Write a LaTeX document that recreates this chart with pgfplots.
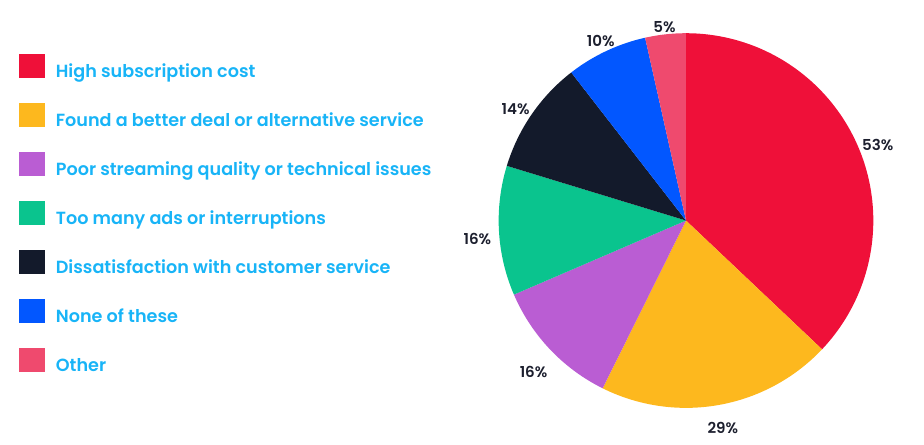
\documentclass[border=0pt]{standalone}
\usepackage{pgfplots}
\pgfplotsset{compat=1.18}
\usepgfplotslibrary{polar}
\usepackage{fontspec}
\setmainfont{Poppins}
\newfontfamily\legfont{Poppins}[UprightFont={* SemiBold}]

\definecolor{cHigh}{HTML}{EF1039}
\definecolor{cDeal}{HTML}{FDB81E}
\definecolor{cPoor}{HTML}{BA5DD3}
\definecolor{cAds}{HTML}{0AC48E}
\definecolor{cCust}{HTML}{131A2B}
\definecolor{cNone}{HTML}{0257FF}
\definecolor{cOther}{HTML}{EF4A6E}
\definecolor{legtext}{HTML}{18B4F7}
\definecolor{lbltext}{HTML}{1C1F2E}

\tikzset{lbl/.style={font=\legfont\fontsize{11.3}{13}\selectfont, text=lbltext, inner sep=0pt}}

% shares (percent of respondents, multiple answers allowed)
\def\vA{53}\def\vB{29}\def\vC{16}\def\vD{16}\def\vE{14}\def\vF{10}\def\vG{5}
\pgfmathsetmacro\tot{\vA+\vB+\vC+\vD+\vE+\vF+\vG}
% slice boundaries, clockwise from 12 o'clock
\pgfmathsetmacro\aA{90}
\pgfmathsetmacro\aB{\aA-\vA/\tot*360}
\pgfmathsetmacro\aC{\aB-\vB/\tot*360}
\pgfmathsetmacro\aD{\aC-\vC/\tot*360}
\pgfmathsetmacro\aE{\aD-\vD/\tot*360}
\pgfmathsetmacro\aF{\aE-\vE/\tot*360}
\pgfmathsetmacro\aG{\aF-\vF/\tot*360}
\pgfmathsetmacro\aH{\aG-\vG/\tot*360}

\begin{document}
\begin{tikzpicture}
\useasboundingbox (0,0) rectangle (693pt,333pt);
\begin{polaraxis}[
    at={(514.5pt,167.6pt)}, anchor=center,
    width=281pt, height=281pt, scale only axis,
    hide axis,
    ymin=0, ymax=1,
    clip=false,
    legend cell align=left,
    legend image code/.code={
        \path[draw=none, fill=none] (0pt,-13.875pt) rectangle (19.5pt,22.875pt);
        \fill[#1] (0pt,-4.5pt) rectangle (19.5pt,13.5pt);
    },
    legend style={
        at={(-1.2797,0.979)}, anchor=north west,
        draw=none, fill=none, inner sep=0pt, outer sep=0pt,
        row sep=0pt,
        font=\legfont\fontsize{13.2}{16}\selectfont,
        text=legtext,
        nodes={inner sep=0pt},
        /tikz/every odd column/.append style={column sep=8pt},
    },
]
\addplot[fill=cHigh, draw=none, domain=\aA:\aB, samples=90] {1} -- (axis cs:0,0) -- cycle;
\addlegendentry{High subscription cost}
\addplot[fill=cDeal, draw=none, domain=\aB:\aC, samples=60] {1} -- (axis cs:0,0) -- cycle;
\addlegendentry{Found a better deal or alternative service}
\addplot[fill=cPoor, draw=none, domain=\aC:\aD, samples=40] {1} -- (axis cs:0,0) -- cycle;
\addlegendentry{Poor streaming quality or technical issues}
\addplot[fill=cAds, draw=none, domain=\aD:\aE, samples=40] {1} -- (axis cs:0,0) -- cycle;
\addlegendentry{Too many ads or interruptions}
\addplot[fill=cCust, draw=none, domain=\aE:\aF, samples=40] {1} -- (axis cs:0,0) -- cycle;
\addlegendentry{Dissatisfaction with customer service}
\addplot[fill=cNone, draw=none, domain=\aF:\aG, samples=30] {1} -- (axis cs:0,0) -- cycle;
\addlegendentry{None of these}
\addplot[fill=cOther, draw=none, domain=\aG:\aH, samples=20] {1} -- (axis cs:0,0) -- cycle;
\addlegendentry{Other}

\node[lbl, yshift=-5.25pt] at (axis cs:{(\aA+\aB)/2},1.115) {53\%};
\node[lbl] at (axis cs:{(\aB+\aC)/2},1.125) {29\%};
\node[lbl, xshift=3pt, yshift=-2.25pt] at (axis cs:{(\aC+\aD)/2},1.15) {16\%};
\node[lbl, yshift=-5.25pt] at (axis cs:{(\aD+\aE)/2},1.115) {16\%};
\node[lbl, yshift=-4.5pt] at (axis cs:{(\aE+\aF)/2},1.105) {14\%};
\node[lbl, yshift=-1.5pt] at (axis cs:{(\aF+\aG)/2},1.07) {10\%};
\node[lbl] at (axis cs:{(\aG+\aH)/2},1.04) {5\%};
\end{polaraxis}
\end{tikzpicture}
\end{document}
